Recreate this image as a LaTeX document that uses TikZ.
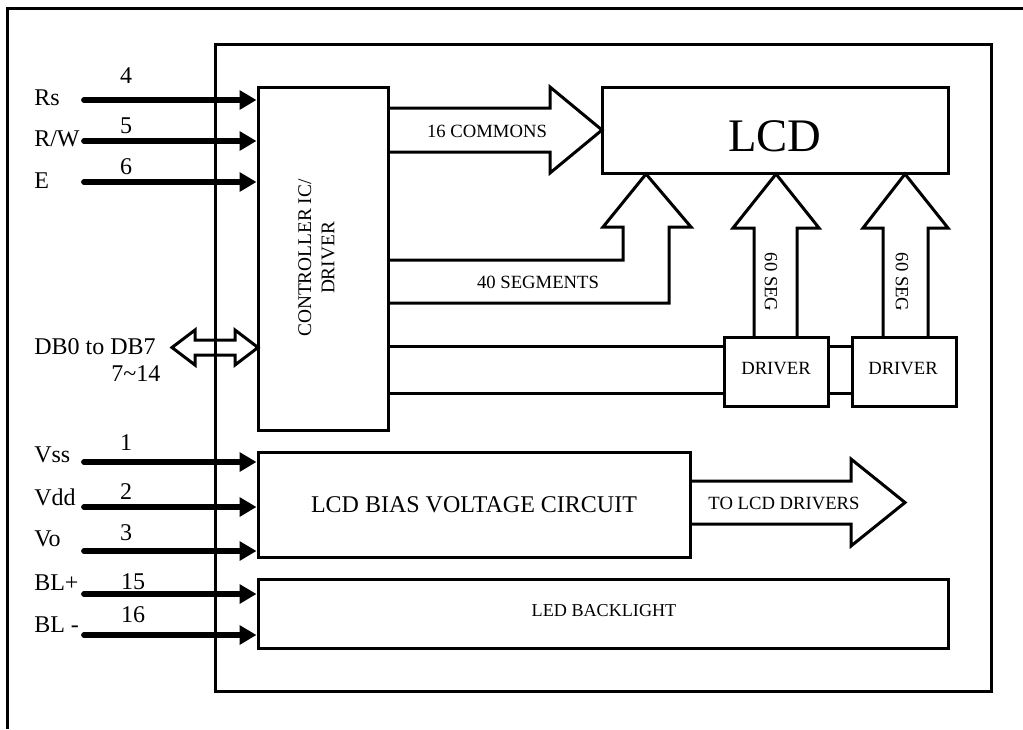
\documentclass[tikz,border=0pt]{standalone}
\usepackage{fontspec}
\setmainfont{Liberation Serif}
\usetikzlibrary{arrows.meta,fit}
\begin{document}
\begin{tikzpicture}[x=0.75pt,y=-0.75pt,
  box/.style={draw,line width=2.25pt,inner sep=0pt},
  fat/.style={draw,line width=2.25pt,line join=miter},
  wire/.style={line width=2.25pt},
  pinline/.style={line width=4.3pt,line cap=round,-{Triangle[length=12.75pt,width=14pt]}},
  pinlbl/.style={anchor=base west,font=\fontsize{18}{20}\selectfont,inner sep=0pt},
  pinnum/.style={anchor=base,font=\fontsize{18}{20}\selectfont,inner sep=0pt},
  small/.style={anchor=base,font=\fontsize{14}{16}\selectfont,inner sep=0pt},
]
\useasboundingbox (0,0) rectangle (1023,729);
% outer frame
\draw[wire] (1023,8) -- (7,8) -- (7,729);
% inner module box
\node[box,fit={(215,44) (991,691)}] (module) {};
% blocks
\node[box,fit={(258,87) (388,430)}] (ctrl) {};
\node[rotate=90,align=center,inner sep=0pt,font=\fontsize{14.5}{17.5}\selectfont] (ctrltxt) at (316.5,258) {CONTROLLER IC/\\DRIVER};
\node[box,fit={(602,87) (948,173)}] (lcd) {};
\node[anchor=base,inner sep=0pt,font=\fontsize{35}{40}\selectfont] (lcdtxt) at (775,151) {LCD};
\node[box,fit={(724,337) (828,406)}] (drv1) {};
\node[small] (drv1txt) at (776,374) {DRIVER};
\node[box,fit={(852,337) (956,406)}] (drv2) {};
\node[small] (drv2txt) at (903,374) {DRIVER};
\node[box,fit={(258,452) (690,557)}] (bias) {};
\node[anchor=base,inner sep=0pt,font=\fontsize{18}{20}\selectfont] (biastxt) at (474,512) {LCD BIAS VOLTAGE CIRCUIT};
\node[box,fit={(258,579) (948,648)}] (led) {};
\node[anchor=base,inner sep=0pt,font=\fontsize{13.6}{15}\selectfont] (ledtxt) at (604,616) {LED BACKLIGHT};

% fat arrows
\draw[fat] (388,108) -- (550,108) -- (550,87) -- (602,130) -- (550,173) -- (550,152) -- (388,152);
\node[small] (comtxt) at (487,137) {16 COMMONS};
\draw[fat] (388,260) -- (623,260) -- (623,227) -- (603,227) -- (646,174) -- (691,227) -- (669,227) -- (669,303) -- (388,303);
\node[small] (segtxt) at (538,288) {40 SEGMENTS};
\draw[fat] (754,337) -- (754,228) -- (733,228) -- (776,174) -- (819,228) -- (797,228) -- (797,337);
\node[rotate=-90,inner sep=0pt,font=\fontsize{14}{16}\selectfont] (seg1txt) at (771,282) {60 SEG};
\draw[fat] (883,337) -- (883,228) -- (863,228) -- (905,174) -- (948,228) -- (928,228) -- (928,337);
\node[rotate=-90,inner sep=0pt,font=\fontsize{14}{16}\selectfont] (seg2txt) at (902,282) {60 SEG};
\draw[fat] (690,481) -- (851,481) -- (851,459) -- (905,502.5) -- (851,546) -- (851,524) -- (690,524);
\node[small] (todrv) at (784,509) {TO LCD DRIVERS};

% driver links
\coordinate (ya) at (0,346);
\coordinate (yb) at (0,393);
\draw[wire] (ctrl.east |- ya) -- (drv1.west |- ya);
\draw[wire] (ctrl.east |- yb) -- (drv1.west |- yb);
\draw[wire] (drv1.east |- ya) -- (drv2.west |- ya);
\draw[wire] (drv1.east |- yb) -- (drv2.west |- yb);

% data bus double arrow
\draw[fat] (172,347.5) -- (195,330) -- (195,340) -- (235,340) -- (235,330) -- (258,347.5)
  -- (235,365) -- (235,355) -- (195,355) -- (195,365) -- cycle;
\node[pinlbl] (ldb) at (34,354) {DB0 to DB7};
\node[pinlbl] (ndb) at (111,381) {7\textasciitilde 14};

% pins
\coordinate (pRs) at (84,100);
\coordinate (pRW) at (84,141);
\coordinate (pE) at (84,182);
\draw[pinline] (pRs) -- (pRs -| ctrl.west);
\draw[pinline] (pRW) -- (pRW -| ctrl.west);
\draw[pinline] (pE) -- (pE -| ctrl.west);
\node[pinlbl] (lRs) at (34,105) {Rs};
\node[pinlbl] (lRW) at (34,146) {R/W};
\node[pinlbl] (lE) at (34,188) {E};
\node[pinnum] (n4) at (126,83) {4};
\node[pinnum] (n5) at (126,133) {5};
\node[pinnum] (n6) at (126,174) {6};

\coordinate (pVss) at (84,462);
\coordinate (pVdd) at (84,507);
\coordinate (pVo) at (84,551);
\coordinate (pBLp) at (84,594);
\coordinate (pBLm) at (84,635);
\draw[pinline] (pVss) -- (pVss -| bias.west);
\draw[pinline] (pVdd) -- (pVdd -| bias.west);
\draw[pinline] (pVo) -- (pVo -| bias.west);
\draw[pinline] (pBLp) -- (pBLp -| led.west);
\draw[pinline] (pBLm) -- (pBLm -| led.west);
\node[pinlbl] (lVss) at (34,462.5) {Vss};
\node[pinlbl] (lVdd) at (34,505) {Vdd};
\node[pinlbl] (lVo) at (34,546) {Vo};
\node[pinlbl] (lBLp) at (34,590) {BL+};
\node[pinlbl] (lBLm) at (34,632) {BL -};
\node[pinnum] (n1) at (126,450) {1};
\node[pinnum] (n2) at (126,499) {2};
\node[pinnum] (n3) at (126,540.5) {3};
\node[pinnum] (n15) at (133,589) {15};
\node[pinnum] (n16) at (133,622) {16};
\end{tikzpicture}
\end{document}
